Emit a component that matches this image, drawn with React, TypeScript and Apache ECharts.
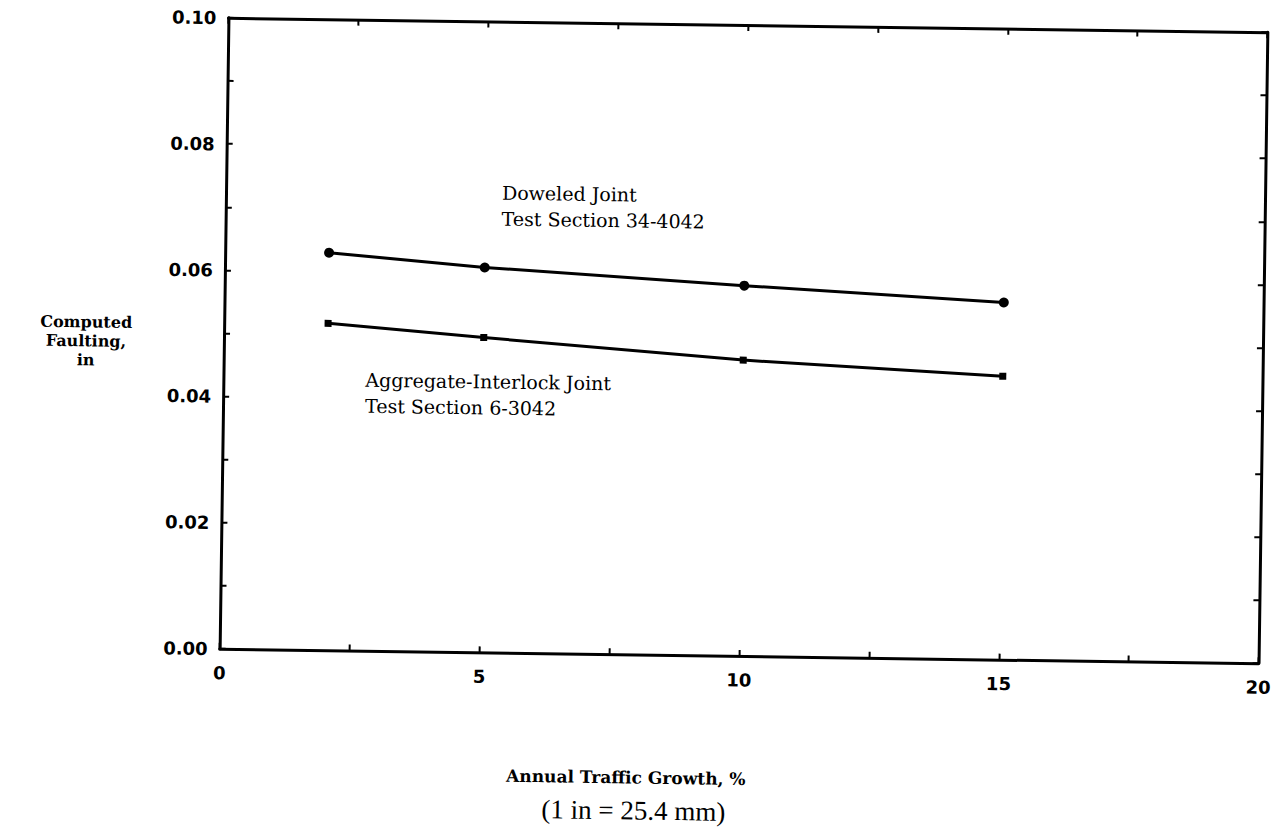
import React, { useEffect, useRef } from "react";
import * as echarts from "echarts";

// Annual traffic growth (%) at which faulting was computed
const growth = [2, 5, 10, 15];
// Computed faulting (in) for each joint type
const doweled = [0.063, 0.061, 0.0587, 0.0566];
const aggregate = [0.0518, 0.0499, 0.0469, 0.0449];

const xTicks = { min: 0, max: 20, step: 2.5, labelEvery: 5 };
const yTicks = { min: 0, max: 0.1, step: 0.01, labelEvery: 0.02 };

const seriesNames = ["Doweled Joint", "Aggregate-Interlock Joint"];
const noteDoweled = ["Doweled Joint", "Test Section 34-4042"];
const noteAggregate = ["Aggregate-Interlock Joint", "Test Section 6-3042"];
const yNameLines = ["Computed", "Faulting,", "in"];
const xName = "Annual Traffic Growth, %";
const unitNote = "(1 in = 25.4 mm)";

const INK = "#000";
const tickFont = "'DejaVu Sans', sans-serif";
const nameFont = "'DejaVu Serif', serif";
const noteFont = "'DejaVu Serif', serif";

function isMultiple(v: number, step: number) {
  const r = v / step;
  return Math.abs(r - Math.round(r)) < 1e-6;
}

// Stacked single-line texts, one graphic element per line
function textLines(lines: string[], x: number, y0: number, gap: number, font: string, align: string) {
  return lines.map((line, i) => ({
    type: "text",
    x,
    y: y0 + i * gap,
    style: { text: line, font, fill: INK, align, verticalAlign: "middle" },
  }));
}

export default function App() {
  const ref = useRef<HTMLDivElement>(null);

  useEffect(() => {
    if (!ref.current) return;
    const chart = echarts.init(ref.current, undefined, { renderer: "svg" });

    const axisCommon = {
      axisLine: { show: true, onZero: false, lineStyle: { color: INK, width: 3 } },
      axisTick: { show: true, inside: true, length: 6, lineStyle: { color: INK, width: 2 } },
      splitLine: { show: false },
    };

    chart.setOption({
      animation: false,
      backgroundColor: "#fff",
      grid: { left: 224, right: 18, top: 25, bottom: 179, containLabel: false },
      xAxis: [
        {
          type: "value",
          min: xTicks.min,
          max: xTicks.max,
          interval: xTicks.step,
          position: "bottom",
          ...axisCommon,
          axisLabel: {
            show: true,
            margin: 15,
            color: INK,
            fontFamily: tickFont,
            fontWeight: "bold",
            fontSize: 18,
            showMinLabel: true,
            showMaxLabel: true,
            formatter: (v: number) => (isMultiple(v, xTicks.labelEvery) ? String(Math.round(v)) : ""),
          },
        },
        {
          type: "value",
          min: xTicks.min,
          max: xTicks.max,
          interval: xTicks.step,
          position: "top",
          ...axisCommon,
          axisLabel: { show: false },
        },
      ],
      yAxis: [
        {
          type: "value",
          min: yTicks.min,
          max: yTicks.max,
          interval: yTicks.step,
          position: "left",
          ...axisCommon,
          axisLabel: {
            show: true,
            margin: 12,
            color: INK,
            fontFamily: tickFont,
            fontWeight: "bold",
            fontSize: 18,
            showMinLabel: true,
            showMaxLabel: true,
            formatter: (v: number) => (isMultiple(v, yTicks.labelEvery) ? v.toFixed(2) : ""),
          },
        },
        {
          type: "value",
          min: yTicks.min,
          max: yTicks.max,
          interval: yTicks.step,
          position: "right",
          ...axisCommon,
          axisLabel: { show: false },
        },
      ],
      series: [
        {
          name: seriesNames[0],
          type: "line",
          data: growth.map((g, i) => [g, doweled[i]]),
          symbol: "circle",
          symbolSize: 10,
          lineStyle: { color: INK, width: 3 },
          itemStyle: { color: INK },
        },
        {
          name: seriesNames[1],
          type: "line",
          data: growth.map((g, i) => [g, aggregate[i]]),
          symbol: "rect",
          symbolSize: 7,
          lineStyle: { color: INK, width: 3 },
          itemStyle: { color: INK },
        },
      ],
      graphic: [
        ...textLines(noteDoweled, 500, 196, 26, `19px ${noteFont}`, "left"),
        ...textLines(noteAggregate, 366, 385, 26, `19px ${noteFont}`, "left"),
        ...textLines(yNameLines, 86, 331, 19, `bold 16px ${nameFont}`, "center"),
        {
          type: "text",
          x: 632,
          y: 779,
          style: {
            text: xName,
            font: `bold 17px ${nameFont}`,
            fill: INK,
            align: "center",
            verticalAlign: "middle",
          },
        },
        {
          type: "text",
          x: 640,
          y: 812,
          style: {
            text: unitNote,
            font: `27px 'Liberation Serif', serif`,
            fill: INK,
            align: "center",
            verticalAlign: "middle",
          },
        },
      ],
    });

    return () => chart.dispose();
  }, []);

  return (
    <div
      ref={ref}
      style={{
        position: "absolute",
        left: 0,
        top: 0,
        width: 1281,
        height: 835,
        transform: "rotate(0.8deg)",
        transformOrigin: "742px 340px",
      }}
    />
  );
}
